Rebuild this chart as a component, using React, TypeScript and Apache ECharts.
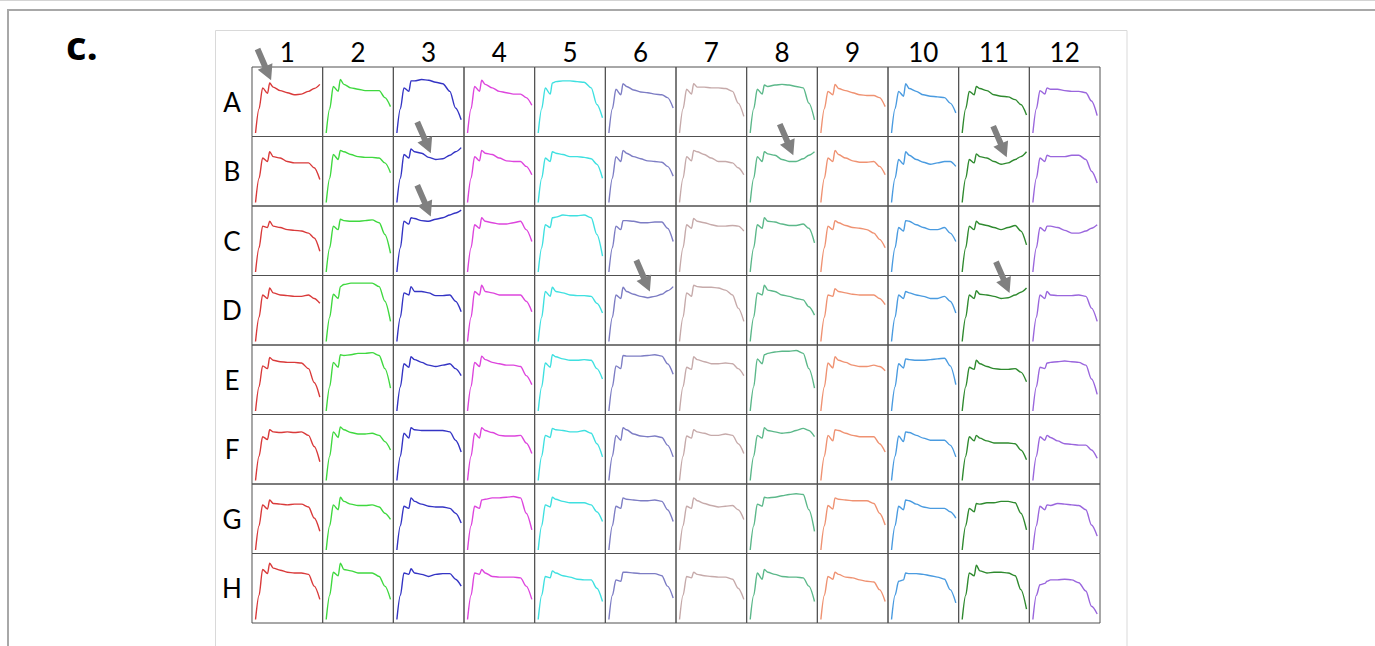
import { useEffect, useRef } from 'react';
import * as echarts from 'echarts';

// x positions (relative wavelength index, 0-100 across each well)
const WAVE = [5, 10, 15, 22, 25, 30, 40, 50, 60, 70, 80, 88, 96];

const ROW_LABELS = ['A', 'B', 'C', 'D', 'E', 'F', 'G', 'H'];
const COL_LABELS = ['1', '2', '3', '4', '5', '6', '7', '8', '9', '10', '11', '12'];

const COL_COLORS = [
  '#d93a3a', '#3fd83f', '#3434c4', '#dd45dd', '#3fe0e0', '#7d7dc4',
  '#c6aaaa', '#5cb88a', '#ef9272', '#4a9be0', '#2f8a2f', '#9a66dd',
];

const ROW_A = [
  [5, 40, 70, 62, 77, 71, 66, 63, 60, 61, 65, 69, 75],
  [5, 40, 72, 65, 82, 75, 70, 68, 66, 66, 66, 56, 43],
  [5, 40, 70, 65, 80, 80, 82, 81, 78, 76, 65, 41, 24],
  [5, 40, 72, 65, 81, 75, 70, 65, 63, 61, 61, 56, 45],
  [5, 40, 70, 61, 77, 79, 80, 80, 79, 78, 70, 46, 27],
  [5, 40, 68, 60, 76, 72, 67, 64, 63, 61, 60, 56, 41],
  [5, 40, 68, 61, 76, 71, 71, 70, 70, 69, 65, 48, 29],
  [5, 40, 68, 61, 74, 72, 74, 75, 74, 72, 70, 48, 24],
  [5, 40, 65, 60, 75, 69, 66, 63, 60, 59, 59, 56, 43],
  [5, 40, 65, 58, 76, 69, 65, 60, 58, 57, 56, 48, 34],
  [5, 40, 65, 60, 72, 69, 66, 60, 58, 57, 53, 46, 31],
  [5, 40, 66, 61, 70, 68, 68, 66, 65, 65, 63, 51, 30],
];
const ROW_B = [
  [5, 40, 69, 64, 78, 71, 69, 64, 62, 62, 62, 55, 38],
  [5, 40, 74, 67, 80, 78, 74, 71, 70, 70, 69, 62, 48],
  [5, 40, 74, 69, 82, 78, 76, 70, 67, 68, 73, 78, 84],
  [5, 40, 71, 65, 80, 76, 74, 69, 65, 64, 64, 57, 45],
  [5, 40, 69, 64, 78, 76, 74, 71, 71, 70, 68, 60, 40],
  [5, 40, 71, 64, 80, 76, 71, 68, 65, 64, 63, 57, 43],
  [5, 40, 71, 65, 80, 78, 74, 69, 64, 64, 62, 55, 45],
  [5, 40, 71, 64, 78, 75, 73, 67, 64, 64, 68, 73, 78],
  [5, 40, 69, 64, 80, 74, 69, 65, 63, 63, 64, 57, 45],
  [5, 40, 67, 60, 78, 73, 67, 63, 60, 62, 64, 64, 57],
  [5, 40, 67, 62, 75, 71, 69, 64, 60, 62, 67, 71, 78],
  [5, 40, 69, 64, 73, 71, 71, 71, 73, 73, 67, 50, 33],
];
const ROW_C = [
  [5, 40, 71, 69, 78, 71, 69, 66, 65, 64, 61, 54, 35],
  [5, 40, 71, 66, 81, 79, 78, 78, 79, 80, 76, 59, 32],
  [5, 40, 78, 74, 83, 82, 79, 78, 81, 83, 87, 90, 94],
  [5, 40, 73, 68, 83, 78, 76, 74, 74, 76, 78, 66, 49],
  [5, 40, 73, 69, 83, 84, 87, 86, 86, 87, 83, 59, 28],
  [5, 40, 71, 66, 79, 79, 78, 76, 76, 77, 77, 68, 49],
  [5, 40, 73, 68, 82, 78, 76, 73, 71, 71, 72, 71, 64],
  [5, 40, 73, 68, 83, 78, 77, 74, 72, 72, 74, 68, 47],
  [5, 40, 71, 66, 79, 76, 72, 69, 68, 66, 61, 52, 40],
  [5, 40, 69, 64, 79, 78, 73, 69, 66, 66, 69, 61, 49],
  [5, 40, 71, 66, 78, 74, 72, 69, 66, 69, 72, 64, 44],
  [5, 40, 69, 64, 71, 71, 69, 65, 61, 61, 64, 68, 73],
];
const ROW_D = [
  [5, 40, 72, 67, 82, 75, 72, 71, 70, 70, 72, 67, 60],
  [5, 40, 73, 67, 84, 87, 89, 89, 89, 89, 84, 63, 34],
  [5, 40, 75, 72, 84, 77, 77, 75, 71, 71, 72, 63, 48],
  [5, 40, 77, 72, 86, 77, 75, 72, 72, 72, 72, 63, 48],
  [5, 40, 77, 70, 83, 77, 75, 72, 71, 71, 70, 60, 46],
  [5, 40, 72, 67, 83, 77, 73, 70, 68, 70, 73, 78, 84],
  [5, 40, 75, 70, 86, 84, 83, 83, 82, 79, 72, 53, 34],
  [5, 40, 75, 72, 86, 79, 77, 72, 70, 67, 65, 55, 43],
  [5, 40, 72, 70, 81, 77, 75, 73, 72, 72, 72, 67, 58],
  [5, 40, 72, 67, 77, 75, 72, 70, 67, 67, 70, 63, 46],
  [5, 40, 72, 67, 78, 73, 72, 70, 67, 68, 72, 76, 82],
  [5, 40, 72, 67, 77, 72, 71, 71, 71, 72, 70, 53, 34],
];
const ROW_E = [
  [5, 40, 70, 66, 82, 78, 76, 75, 75, 74, 66, 46, 25],
  [5, 40, 75, 68, 86, 85, 86, 88, 88, 89, 85, 66, 38],
  [5, 40, 73, 68, 83, 79, 75, 71, 69, 71, 73, 66, 56],
  [5, 40, 75, 69, 84, 79, 75, 73, 71, 71, 69, 56, 43],
  [5, 40, 74, 68, 86, 83, 80, 78, 78, 79, 78, 66, 51],
  [5, 40, 70, 66, 85, 84, 84, 84, 85, 86, 84, 73, 58],
  [5, 40, 68, 65, 83, 79, 76, 73, 73, 74, 73, 66, 56],
  [5, 40, 80, 73, 86, 88, 90, 91, 91, 92, 88, 66, 38],
  [5, 40, 74, 67, 83, 78, 75, 71, 69, 69, 71, 69, 63],
  [5, 40, 73, 67, 80, 79, 78, 78, 79, 80, 81, 70, 43],
  [5, 40, 68, 65, 78, 73, 69, 66, 65, 65, 66, 61, 47],
  [5, 40, 68, 66, 74, 75, 76, 77, 76, 75, 71, 51, 29],
];
const ROW_F = [
  [5, 40, 68, 64, 78, 75, 74, 75, 74, 75, 70, 54, 32],
  [5, 40, 75, 67, 82, 78, 74, 72, 72, 73, 70, 61, 49],
  [5, 40, 73, 66, 81, 78, 77, 77, 77, 77, 75, 63, 46],
  [5, 40, 73, 66, 81, 77, 74, 70, 69, 69, 70, 59, 44],
  [5, 40, 70, 67, 80, 78, 77, 75, 75, 77, 73, 58, 39],
  [5, 40, 70, 63, 81, 78, 72, 69, 68, 69, 67, 56, 39],
  [5, 40, 69, 66, 78, 75, 73, 70, 70, 72, 70, 58, 44],
  [5, 40, 70, 66, 81, 77, 75, 73, 74, 77, 80, 77, 68],
  [5, 40, 70, 62, 78, 77, 73, 70, 68, 68, 68, 58, 46],
  [5, 40, 69, 61, 75, 74, 70, 66, 63, 63, 63, 56, 39],
  [5, 40, 68, 62, 70, 66, 62, 59, 59, 59, 58, 49, 35],
  [5, 40, 68, 63, 70, 67, 62, 58, 57, 56, 56, 49, 37],
];
const ROW_G = [
  [5, 40, 70, 64, 77, 72, 71, 70, 71, 71, 67, 51, 32],
  [5, 40, 70, 63, 81, 75, 71, 69, 69, 70, 67, 58, 49],
  [5, 40, 68, 65, 80, 75, 71, 68, 67, 67, 65, 58, 44],
  [5, 40, 68, 65, 77, 78, 80, 80, 81, 82, 80, 58, 34],
  [5, 40, 70, 67, 81, 78, 75, 73, 73, 73, 70, 60, 46],
  [5, 40, 68, 65, 80, 78, 77, 76, 76, 77, 75, 63, 46],
  [5, 40, 68, 65, 80, 76, 72, 69, 67, 68, 69, 63, 49],
  [5, 40, 71, 68, 81, 80, 81, 83, 85, 86, 85, 63, 32],
  [5, 40, 69, 64, 80, 78, 77, 76, 76, 76, 72, 58, 41],
  [5, 40, 68, 63, 77, 76, 71, 67, 65, 65, 65, 60, 51],
  [5, 40, 65, 60, 72, 71, 73, 73, 75, 75, 73, 58, 34],
  [5, 40, 68, 63, 70, 69, 72, 71, 70, 69, 63, 41, 25],
];
const ROW_H = [
  [5, 40, 77, 71, 86, 79, 76, 73, 72, 72, 70, 53, 34],
  [5, 40, 73, 68, 86, 77, 75, 72, 72, 72, 67, 53, 34],
  [5, 40, 72, 70, 78, 72, 70, 67, 70, 71, 71, 63, 53],
  [5, 40, 72, 70, 77, 72, 67, 66, 66, 66, 65, 53, 34],
  [5, 40, 67, 65, 75, 72, 68, 66, 63, 62, 62, 50, 31],
  [5, 40, 62, 60, 73, 73, 72, 71, 71, 71, 68, 53, 36],
  [5, 40, 67, 65, 73, 70, 68, 67, 66, 66, 63, 50, 34],
  [5, 40, 72, 63, 77, 73, 70, 67, 66, 66, 65, 53, 31],
  [5, 40, 67, 63, 73, 70, 66, 65, 62, 60, 59, 48, 31],
  [5, 40, 60, 62, 72, 71, 71, 70, 68, 66, 63, 48, 29],
  [5, 40, 72, 68, 83, 75, 72, 73, 73, 72, 68, 48, 20],
  [5, 40, 55, 57, 60, 62, 62, 63, 62, 58, 46, 24, 13],
];

const PLATE = [ROW_A, ROW_B, ROW_C, ROW_D, ROW_E, ROW_F, ROW_G, ROW_H];

// arrows: well row, well column, tip position in the well's data coordinates
const ARROWS: [string, number, number, number][] = [
  ['A', 1, 27, 81],
  ['B', 3, 53, 76],
  ['C', 3, 53, 85],
  ['B', 8, 66, 73],
  ['D', 6, 63, 77],
  ['B', 11, 68, 70],
  ['D', 11, 72, 75],
];

export default function App() {
  const ref = useRef<HTMLDivElement>(null);

  useEffect(() => {
    if (!ref.current) return;
    const chart = echarts.init(ref.current, null, { renderer: 'svg' });

    const left = 252;
    const top = 67;
    const plateW = 848;
    const plateH = 556;
    const cw = plateW / COL_LABELS.length;
    const rh = plateH / ROW_LABELS.length;

    const grids: any[] = [];
    const xAxes: any[] = [];
    const yAxes: any[] = [];
    const series: any[] = [];

    const rot = 23.5;
    const arrowH = 34;
    const rad = (rot * Math.PI) / 180;
    const off = [-(arrowH / 2) * Math.sin(rad), -(arrowH / 2) * Math.cos(rad)];

    PLATE.forEach((row, r) => {
      row.forEach((vals, c) => {
        const i = r * COL_LABELS.length + c;
        grids.push({
          left: left + c * cw,
          top: top + r * rh,
          width: cw,
          height: rh,
          show: true,
          borderColor: '#505050',
          borderWidth: 1,
          backgroundColor: 'transparent',
        });
        xAxes.push({ type: 'value', gridIndex: i, min: 0, max: 100, show: false });
        yAxes.push({ type: 'value', gridIndex: i, min: 0, max: 100, show: false });
        const arrows = ARROWS.filter((a) => a[0] === ROW_LABELS[r] && a[1] === c + 1);
        const color = COL_COLORS[c];
        series.push({
          type: 'line',
          name: ROW_LABELS[r] + COL_LABELS[c],
          xAxisIndex: i,
          yAxisIndex: i,
          data: WAVE.map((w, k) => [w, vals[k]]),
          showSymbol: false,
          symbol: 'none',
          smooth: 0.3,
          smoothMonotone: 'x',
          silent: true,
          lineStyle: { color, width: 1.4 },
          itemStyle: { color },
          markPoint: arrows.length
            ? {
                silent: true,
                symbol: 'path://M5,0 L11,0 L11,19 L16,19 L8,34 L0,19 L5,19 Z',
                symbolSize: [16, arrowH],
                symbolRotate: rot,
                symbolOffset: off,
                label: { show: false },
                itemStyle: { color: '#808080' },
                data: arrows.map((a) => ({ coord: [a[2], a[3]] })),
              }
            : undefined,
        });
      });
    });

    const graphics: any[] = [
      { type: 'line', shape: { x1: 0, y1: 0.5, x2: 1375, y2: 0.5 }, style: { stroke: '#d4d4d4', lineWidth: 1 } },
      { type: 'rect', shape: { x: 8, y: 10, width: 1400, height: 700 }, style: { fill: 'none', stroke: '#a8a8a8', lineWidth: 2 } },
      { type: 'rect', shape: { x: 215.5, y: 30.5, width: 911.5, height: 700 }, style: { fill: 'none', stroke: '#d9d9d9', lineWidth: 1 } },
      {
        type: 'text',
        x: 66,
        y: 44,
        style: { text: 'c.', fontSize: 40, fontWeight: 'bold', fontFamily: 'Open Sans', fill: '#000', align: 'left', verticalAlign: 'middle' },
      },
    ];
    COL_LABELS.forEach((t, c) => {
      graphics.push({
        type: 'text',
        x: left + (c + 0.5) * cw,
        y: 52,
        style: { text: t, fontSize: 26, fontFamily: 'Lato', fill: '#000', align: 'center', verticalAlign: 'middle' },
      });
    });
    ROW_LABELS.forEach((t, r) => {
      graphics.push({
        type: 'text',
        x: 232,
        y: top + (r + 0.5) * rh,
        style: { text: t, fontSize: 26, fontFamily: 'Lato', fill: '#000', align: 'center', verticalAlign: 'middle' },
      });
    });

    chart.setOption({
      animation: false,
      backgroundColor: '#ffffff',
      grid: grids,
      xAxis: xAxes,
      yAxis: yAxes,
      series,
      graphic: graphics,
    });

    return () => chart.dispose();
  }, []);

  return (
    <div
      ref={ref}
      style={{ position: 'absolute', left: 0, top: 0, width: 1375, height: 646 }}
    />
  );
}
